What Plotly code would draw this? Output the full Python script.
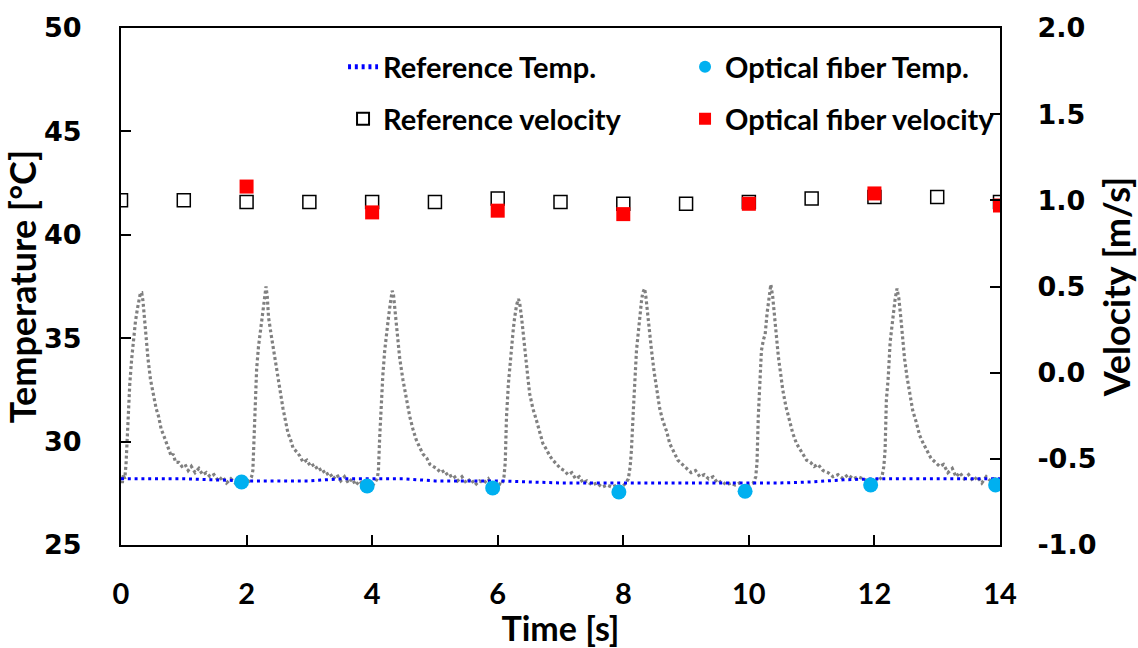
import plotly.graph_objects as go

# ---------------- data ----------------
# gray raw optical-fiber temperature trace
trace_t = [
    0.00, 0.02, 0.04, 0.06, 0.08, 0.10, 0.12, 0.14, 0.17, 0.20, 0.23, 0.26, 0.29, 0.31, 0.33, 0.35, 0.37, 0.40, 0.43, 0.47,
    0.51, 0.56, 0.60, 0.64, 0.68, 0.73, 0.76, 0.80, 0.83, 0.87, 0.92, 0.97, 1.02, 1.07, 1.12, 1.18, 1.24, 1.30, 1.36, 1.42,
    1.48, 1.55, 1.62, 1.68, 1.75, 1.82, 1.88, 1.95, 2.02, 2.08,
    2.10, 2.12, 2.14, 2.16, 2.19, 2.22, 2.25, 2.28, 2.31, 2.33, 2.35, 2.39, 2.43, 2.48, 2.53, 2.58, 2.62, 2.66, 2.70, 2.74,
    2.80, 2.85, 2.90, 2.96, 3.02, 3.08, 3.14, 3.20, 3.26, 3.32, 3.38, 3.44, 3.50, 3.56, 3.62, 3.68, 3.74, 3.80, 3.86, 3.92,
    3.98, 4.04, 4.08,
    4.10, 4.12, 4.14, 4.17, 4.20, 4.23, 4.26, 4.29, 4.32, 4.34, 4.37, 4.40, 4.44, 4.49, 4.55, 4.60, 4.65, 4.70, 4.76, 4.81,
    4.87, 4.92, 4.97, 5.03, 5.09, 5.15, 5.22, 5.29, 5.36, 5.43, 5.50, 5.57, 5.64, 5.71, 5.78, 5.85, 5.92, 6.00, 6.06, 6.10,
    6.12, 6.14, 6.17, 6.20, 6.22, 6.25, 6.27, 6.30, 6.33, 6.35, 6.38, 6.41, 6.44, 6.48, 6.51, 6.56, 6.62, 6.67, 6.72, 6.78,
    6.83, 6.88, 6.94, 7.00, 7.06, 7.12, 7.18, 7.24, 7.30, 7.36, 7.42, 7.50, 7.58, 7.66, 7.74, 7.82, 7.90, 7.98, 8.04, 8.08,
    8.11, 8.13, 8.16, 8.18, 8.21, 8.24, 8.26, 8.29, 8.31, 8.34, 8.36, 8.39, 8.42, 8.45, 8.49, 8.53, 8.58, 8.63, 8.69, 8.74,
    8.80, 8.87, 8.94, 9.01, 9.08, 9.15, 9.22, 9.29, 9.36, 9.43, 9.50, 9.57, 9.64, 9.71, 9.78, 9.85, 9.92, 10.00, 10.07, 10.11,
    10.13, 10.15, 10.18, 10.20, 10.23, 10.26, 10.29, 10.32, 10.35, 10.38, 10.41, 10.44, 10.47, 10.51, 10.54, 10.59, 10.65,
    10.70, 10.76, 10.82, 10.88, 10.92, 10.98, 11.04, 11.10, 11.18, 11.26, 11.34, 11.42, 11.50, 11.58, 11.66, 11.74, 11.82,
    11.90, 11.98, 12.06, 12.12,
    12.15, 12.17, 12.19, 12.22, 12.25, 12.28, 12.30, 12.33, 12.36, 12.39, 12.42, 12.45, 12.48, 12.52, 12.56, 12.61, 12.67,
    12.72, 12.78, 12.83, 12.90, 12.97, 13.04, 13.10, 13.17, 13.24, 13.30, 13.36, 13.43, 13.50, 13.57, 13.64, 13.71, 13.78,
    13.85, 13.92, 14.00,
]
trace_temp = [
    28.3, 28.0, 28.4, 28.2, 28.9, 30.2, 31.6, 32.8, 34.0, 35.1, 35.8, 36.4, 36.9, 37.2, 37.2, 36.8, 36.1, 35.0, 34.0, 33.0,
    32.3, 31.6, 31.2, 30.6, 30.3, 29.9, 29.7, 29.3, 29.4, 29.0, 29.0, 28.8, 28.9, 28.6, 28.8, 28.5, 28.7, 28.4, 28.5, 28.3,
    28.4, 28.1, 28.3, 28.0, 28.2, 28.0, 28.1, 27.9, 28.0, 28.3,
    28.6, 30.0, 32.0, 33.5, 34.6, 35.4, 36.0, 36.8, 37.5, 37.0, 36.0, 35.2, 34.4, 33.4, 32.5, 31.6, 31.0, 30.4, 30.1, 29.7,
    29.5, 29.3, 29.0, 29.1, 28.8, 28.9, 28.6, 28.7, 28.4, 28.5, 28.2, 28.4, 28.1, 28.3, 28.0, 28.2, 27.9, 28.1, 27.9, 28.0,
    27.8, 28.0, 28.2,
    28.6, 30.2, 31.8, 33.2, 34.4, 35.3, 36.0, 36.7, 37.3, 37.1, 36.2, 35.2, 34.0, 33.0, 32.0, 31.2, 30.6, 30.1, 29.7, 29.4,
    29.2, 28.9, 28.8, 28.7, 28.5, 28.6, 28.3, 28.4, 28.1, 28.3, 28.0, 28.2, 27.9, 28.1, 28.0, 28.2, 27.8, 28.0, 27.9, 28.3,
    29.0, 31.2, 32.8, 34.0, 34.8, 35.5, 36.0, 36.6, 36.9, 36.7, 36.0, 35.0, 34.1, 33.1, 32.3, 31.6, 31.0, 30.4, 29.9, 29.6,
    29.3, 29.1, 28.9, 28.7, 28.6, 28.4, 28.5, 28.2, 28.3, 28.0, 28.1, 27.9, 28.0, 27.8, 27.9, 27.8, 27.9, 27.8, 28.0, 28.2,
    28.8, 29.6, 31.5, 32.8, 34.4, 35.3, 36.0, 36.8, 37.2, 37.4, 37.0, 36.0, 35.2, 34.4, 33.4, 32.5, 31.6, 31.0, 30.5, 29.9,
    29.5, 29.1, 28.9, 28.7, 28.5, 28.6, 28.3, 28.4, 28.2, 28.3, 28.0, 28.1, 27.9, 28.0, 27.9, 28.0, 27.8, 27.9, 28.0, 28.3,
    29.0, 31.2, 32.8, 34.4, 34.9, 35.2, 36.2, 37.0, 37.6, 37.0, 36.0, 35.0, 34.1, 33.2, 32.5, 31.7, 31.0,
    30.4, 29.9, 29.6, 29.3, 29.1, 29.0, 28.8, 28.9, 28.6, 28.5, 28.3, 28.4, 28.2, 28.4, 28.2, 28.3, 28.2,
    28.1, 28.2, 28.1, 28.3,
    28.8, 29.6, 32.0, 33.1, 34.8, 35.6, 36.2, 36.9, 37.4, 36.9, 36.0, 35.0, 34.0, 33.1, 32.3, 31.5, 30.9,
    30.3, 29.9, 29.6, 29.2, 29.0, 28.8, 28.9, 28.5, 28.7, 28.3, 28.5, 28.2, 28.4, 28.1, 28.3, 28.0, 28.3,
    28.1, 28.2, 28.1,
]

# reference temperature (blue dotted line)
ref_temp_t = [0, 0.5, 1, 1.5, 2, 2.5, 3, 3.5, 4, 4.5, 5, 5.5, 6, 6.5, 7, 7.5, 8, 8.5, 9, 9.5, 10, 10.5, 11, 11.5, 12, 12.5, 13, 13.5, 14]
ref_temp = [28.2, 28.2, 28.2, 28.15, 28.1, 28.1, 28.1, 28.2, 28.2, 28.2, 28.1, 28.1, 28.1, 28.05, 28.0, 28.0, 28.0, 28.0,
            28.0, 28.0, 28.0, 28.0, 28.05, 28.15, 28.2, 28.2, 28.2, 28.2, 28.2]

# optical fiber temperature (cyan circles)
fiber_temp_t = [1.92, 3.92, 5.92, 7.93, 9.94, 11.94, 13.93]
fiber_temp = [28.05, 27.85, 27.76, 27.56, 27.6, 27.9, 27.9]

# reference velocity (open squares)
ref_vel_t = [0, 1, 2, 3, 4, 5, 6, 7, 8, 9, 10, 11, 12, 13, 14]
ref_vel = [1.0, 1.0, 0.99, 0.99, 0.99, 0.99, 1.01, 0.99, 0.98, 0.98, 0.99, 1.01, 1.02, 1.02, 0.99]

# optical fiber velocity (red squares)
fiber_vel_t = [2, 4, 6, 8, 10, 12, 14]
fiber_vel = [1.08, 0.93, 0.94, 0.92, 0.98, 1.04, 0.97]

x_ticks = [0, 2, 4, 6, 8, 10, 12, 14]
y_ticks = [25, 30, 35, 40, 45, 50]
y2_ticks = [-1.0, -0.5, 0.0, 0.5, 1.0, 1.5, 2.0]
y2_ticktext = ["-1.0", "-0.5", "0.0", "0.5", "1.0", "1.5", "2.0"]

# ---------------- figure ----------------
TITLE_FONT = dict(family="Lato", size=36, color="black", weight="bold")
XTITLE_FONT = dict(family="Lato", size=34, color="black", weight="bold")
LEG_FONT = dict(family="Lato", size=29, color="black", weight="bold")
NUM_FONT = dict(family="DejaVu Sans", size=27, color="black", weight="bold")
XNUM_FONT = dict(family="Lato", size=29, color="black", weight="bold")

fig = go.Figure()

fig.add_trace(go.Scatter(
    x=trace_t, y=trace_temp, mode="lines", name="Optical fiber signal",
    line=dict(color="#808080", width=3.2, dash="3px,2.6px"), showlegend=False))

fig.add_trace(go.Scatter(
    x=ref_temp_t, y=ref_temp, mode="lines", name="Reference Temp.",
    line=dict(color="#0000FF", width=3, dash="3px,3.8px"), legend="legend"))

fig.add_trace(go.Scatter(
    x=fiber_temp_t, y=fiber_temp, mode="markers", name="Optical fiber Temp.",
    marker=dict(color="#00B0F0", size=15, symbol="circle"), legend="legend"))

fig.add_trace(go.Scatter(
    x=ref_vel_t, y=ref_vel, mode="markers", name="Reference velocity", yaxis="y2",
    marker=dict(color="white", size=13, symbol="square", line=dict(color="black", width=1.5)),
    legend="legend2"))

fig.add_trace(go.Scatter(
    x=fiber_vel_t, y=fiber_vel, mode="markers", name="Optical fiber velocity", yaxis="y2",
    marker=dict(color="#FF0000", size=14, symbol="square"), legend="legend2"))

leg_common = dict(orientation="h", xanchor="left", yanchor="middle", font=LEG_FONT,
                  bgcolor="rgba(0,0,0,0)", entrywidth=297, entrywidthmode="pixels",
                  itemsizing="constant")

fig.update_layout(
    width=1138, height=648,
    margin=dict(l=121, r=138, t=28, b=103, autoexpand=False),
    paper_bgcolor="white", plot_bgcolor="white",
    legend=dict(x=0.2526, y=0.9246, **leg_common),
    legend2=dict(x=0.2526, y=0.824, **leg_common),
    xaxis=dict(
        range=[0, 14], tickvals=x_ticks, ticks="inside", ticklen=10, tickwidth=2, tickcolor="black",
        showline=True, linecolor="black", linewidth=2, mirror=True, showgrid=False, zeroline=False,
        tickfont=XNUM_FONT, ticklabelstandoff=22, automargin=False,
        title=dict(text="Time [s]", font=XTITLE_FONT, standoff=0),
    ),
    yaxis=dict(
        range=[25, 50], tickvals=y_ticks, ticks="inside", ticklen=10, tickwidth=2, tickcolor="black",
        showline=True, linecolor="black", linewidth=2, showgrid=False, zeroline=False,
        tickfont=NUM_FONT, ticklabelstandoff=32, automargin=False,
        title=dict(text="Temperature [°C]", font=TITLE_FONT, standoff=4),
    ),
    yaxis2=dict(
        range=[-1.0, 2.0], tickvals=y2_ticks, ticktext=y2_ticktext, overlaying="y", side="right",
        ticks="inside", ticklen=10, tickwidth=2, tickcolor="black",
        showline=True, linecolor="black", linewidth=2, showgrid=False, zeroline=False,
        tickfont=NUM_FONT, ticklabelstandoff=30, automargin=False,
        title=dict(text="Velocity [m/s]", font=TITLE_FONT, standoff=24),
    ),
)

fig.write_html("out.html")
